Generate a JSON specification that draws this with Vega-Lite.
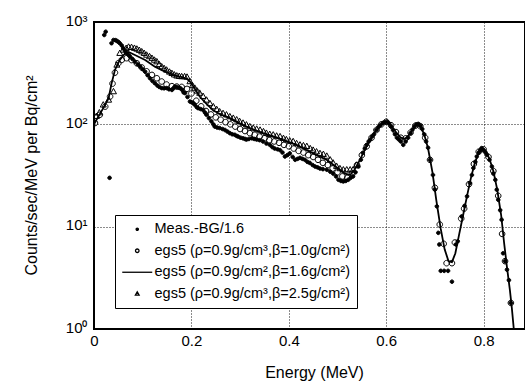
{
  "$schema": "https://vega.github.io/schema/vega-lite/v6.json",
  "width": 431,
  "height": 307,
  "autosize": {"type": "none"},
  "padding": {"left": 94, "top": 22, "right": 0, "bottom": 54},
  "background": "white",
  "config": {
    "view": {"stroke": "black", "strokeWidth": 2},
    "font": "Liberation Sans",
    "axis": {"labelFont": "Liberation Sans", "titleFont": "Liberation Sans", "labelColor": "black", "titleColor": "black", "titleFontWeight": "normal"}
  },
  "data": {"values": [
    {"s":"T","x":0.005,"y":120},{"s":"T","x":0.011,"y":130},{"s":"T","x":0.019,"y":155},{"s":"T","x":0.030,"y":173},{"s":"T","x":0.040,"y":209},{"s":"T","x":0.047,"y":380},{"s":"T","x":0.053,"y":495},{"s":"T","x":0.060,"y":533},{"s":"T","x":0.066,"y":554},{"s":"T","x":0.071,"y":570},{"s":"T","x":0.077,"y":566},{"s":"T","x":0.083,"y":555},{"s":"T","x":0.088,"y":545},{"s":"T","x":0.093,"y":530},{"s":"T","x":0.098,"y":513},{"s":"T","x":0.103,"y":495},{"s":"T","x":0.108,"y":476},{"s":"T","x":0.114,"y":460},{"s":"T","x":0.119,"y":443},{"s":"T","x":0.124,"y":425},{"s":"T","x":0.129,"y":410},{"s":"T","x":0.134,"y":385},{"s":"T","x":0.139,"y":366},{"s":"T","x":0.144,"y":352},{"s":"T","x":0.149,"y":340},{"s":"T","x":0.155,"y":325},{"s":"T","x":0.160,"y":315},{"s":"T","x":0.165,"y":305},{"s":"T","x":0.170,"y":298},{"s":"T","x":0.175,"y":295},{"s":"T","x":0.180,"y":293},{"s":"T","x":0.186,"y":293},{"s":"T","x":0.191,"y":290},{"s":"T","x":0.197,"y":262},{"s":"T","x":0.202,"y":240},{"s":"T","x":0.207,"y":226},{"s":"T","x":0.212,"y":212},{"s":"T","x":0.217,"y":202},{"s":"T","x":0.224,"y":188},{"s":"T","x":0.231,"y":173},{"s":"T","x":0.238,"y":160},{"s":"T","x":0.245,"y":149},{"s":"T","x":0.252,"y":140},{"s":"T","x":0.258,"y":133},{"s":"T","x":0.265,"y":128},{"s":"T","x":0.272,"y":124},{"s":"T","x":0.279,"y":119},{"s":"T","x":0.286,"y":115},{"s":"T","x":0.293,"y":111},{"s":"T","x":0.299,"y":107},{"s":"T","x":0.306,"y":103},{"s":"T","x":0.313,"y":99},{"s":"T","x":0.320,"y":95},{"s":"T","x":0.327,"y":92},{"s":"T","x":0.334,"y":90},{"s":"T","x":0.341,"y":88},{"s":"T","x":0.348,"y":85},{"s":"T","x":0.354,"y":82},{"s":"T","x":0.361,"y":80},{"s":"T","x":0.368,"y":79},{"s":"T","x":0.375,"y":77},{"s":"T","x":0.382,"y":76},{"s":"T","x":0.389,"y":73},{"s":"T","x":0.395,"y":71},{"s":"T","x":0.402,"y":69},{"s":"T","x":0.409,"y":68},{"s":"T","x":0.416,"y":65},{"s":"T","x":0.423,"y":63},{"s":"T","x":0.430,"y":62},{"s":"T","x":0.437,"y":61},{"s":"T","x":0.444,"y":58},{"s":"T","x":0.450,"y":56},{"s":"T","x":0.457,"y":54},{"s":"T","x":0.464,"y":52},{"s":"T","x":0.471,"y":51},{"s":"T","x":0.478,"y":49},{"s":"T","x":0.485,"y":45},{"s":"T","x":0.491,"y":42},{"s":"T","x":0.498,"y":39},{"s":"T","x":0.505,"y":37},{"s":"T","x":0.512,"y":36},{"s":"T","x":0.519,"y":36},{"s":"T","x":0.526,"y":36},{"s":"T","x":0.532,"y":36},{"s":"T","x":0.539,"y":40},
    {"s":"C","x":0.002,"y":103},{"s":"C","x":0.012,"y":124},{"s":"C","x":0.023,"y":149},{"s":"C","x":0.033,"y":187},{"s":"C","x":0.038,"y":250},{"s":"C","x":0.043,"y":320},{"s":"C","x":0.050,"y":396},{"s":"C","x":0.057,"y":426},{"s":"C","x":0.067,"y":443},{"s":"C","x":0.077,"y":425},{"s":"C","x":0.088,"y":395},{"s":"C","x":0.098,"y":360},{"s":"C","x":0.108,"y":330},{"s":"C","x":0.119,"y":304},{"s":"C","x":0.129,"y":282},{"s":"C","x":0.139,"y":262},{"s":"C","x":0.149,"y":245},{"s":"C","x":0.160,"y":236},{"s":"C","x":0.170,"y":234},{"s":"C","x":0.180,"y":232},{"s":"C","x":0.191,"y":222},{"s":"C","x":0.200,"y":200},{"s":"C","x":0.210,"y":170},{"s":"C","x":0.220,"y":150},{"s":"C","x":0.230,"y":135},{"s":"C","x":0.240,"y":125},{"s":"C","x":0.250,"y":117},{"s":"C","x":0.260,"y":111},{"s":"C","x":0.270,"y":105},{"s":"C","x":0.280,"y":100},{"s":"C","x":0.290,"y":95},{"s":"C","x":0.300,"y":90},{"s":"C","x":0.310,"y":86},{"s":"C","x":0.320,"y":82},{"s":"C","x":0.330,"y":79},{"s":"C","x":0.340,"y":76},{"s":"C","x":0.350,"y":73},{"s":"C","x":0.360,"y":70},{"s":"C","x":0.370,"y":68},{"s":"C","x":0.380,"y":66},{"s":"C","x":0.390,"y":63},{"s":"C","x":0.400,"y":61},{"s":"C","x":0.410,"y":58},{"s":"C","x":0.420,"y":55},{"s":"C","x":0.430,"y":53},{"s":"C","x":0.440,"y":50},{"s":"C","x":0.450,"y":48},{"s":"C","x":0.460,"y":45},{"s":"C","x":0.470,"y":42},{"s":"C","x":0.480,"y":40},{"s":"C","x":0.490,"y":37},{"s":"C","x":0.500,"y":34},{"s":"C","x":0.510,"y":31},{"s":"C","x":0.520,"y":30},{"s":"C","x":0.530,"y":33},{"s":"C","x":0.540,"y":40},{"s":"C","x":0.550,"y":50},{"s":"C","x":0.560,"y":61},{"s":"C","x":0.570,"y":74},{"s":"C","x":0.580,"y":88},{"s":"C","x":0.590,"y":100},{"s":"C","x":0.600,"y":106},{"s":"C","x":0.610,"y":98},{"s":"C","x":0.620,"y":84},{"s":"C","x":0.630,"y":74},{"s":"C","x":0.640,"y":73},{"s":"C","x":0.650,"y":83},{"s":"C","x":0.660,"y":97},{"s":"C","x":0.670,"y":96},{"s":"C","x":0.680,"y":74},{"s":"C","x":0.690,"y":45},{"s":"C","x":0.700,"y":24},{"s":"C","x":0.710,"y":10.5},{"s":"C","x":0.718,"y":6.8},{"s":"C","x":0.724,"y":4.4},{"s":"C","x":0.735,"y":4.4},{"s":"C","x":0.741,"y":7},{"s":"C","x":0.754,"y":12},{"s":"C","x":0.760,"y":15},{"s":"C","x":0.770,"y":26},{"s":"C","x":0.780,"y":41},{"s":"C","x":0.790,"y":54},{"s":"C","x":0.800,"y":57},{"s":"C","x":0.810,"y":48},{"s":"C","x":0.820,"y":35},{"s":"C","x":0.830,"y":20},{"s":"C","x":0.838,"y":8.5},{"s":"C","x":0.844,"y":4.6},{"s":"C","x":0.856,"y":1.8},
    {"s":"M","x":0.021,"y":747},{"s":"M","x":0.024,"y":804},{"s":"M","x":0.032,"y":30},{"s":"M","x":0.036,"y":620},{"s":"M","x":0.040,"y":667},{"s":"M","x":0.044,"y":665},{"s":"M","x":0.047,"y":653},{"s":"M","x":0.050,"y":640},{"s":"M","x":0.053,"y":620},{"s":"M","x":0.057,"y":590},{"s":"M","x":0.060,"y":554},{"s":"M","x":0.064,"y":520},{"s":"M","x":0.067,"y":495},{"s":"M","x":0.071,"y":475},{"s":"M","x":0.074,"y":459},{"s":"M","x":0.079,"y":435},{"s":"M","x":0.084,"y":410},{"s":"M","x":0.090,"y":385},{"s":"M","x":0.095,"y":366},{"s":"M","x":0.100,"y":345},{"s":"M","x":0.105,"y":327},{"s":"M","x":0.110,"y":302},{"s":"M","x":0.115,"y":282},{"s":"M","x":0.120,"y":265},{"s":"M","x":0.125,"y":252},{"s":"M","x":0.130,"y":240},{"s":"M","x":0.134,"y":232},{"s":"M","x":0.139,"y":226},{"s":"M","x":0.144,"y":225},{"s":"M","x":0.149,"y":226},{"s":"M","x":0.154,"y":220},{"s":"M","x":0.160,"y":217},{"s":"M","x":0.163,"y":225},{"s":"M","x":0.166,"y":234},{"s":"M","x":0.170,"y":232},{"s":"M","x":0.174,"y":228},{"s":"M","x":0.177,"y":226},{"s":"M","x":0.181,"y":217},{"s":"M","x":0.184,"y":205},{"s":"M","x":0.187,"y":202},{"s":"M","x":0.192,"y":185},{"s":"M","x":0.197,"y":167},{"s":"M","x":0.200,"y":165},{"s":"M","x":0.204,"y":161},{"s":"M","x":0.207,"y":155},{"s":"M","x":0.211,"y":147},{"s":"M","x":0.214,"y":144},{"s":"M","x":0.219,"y":141},{"s":"M","x":0.224,"y":138},{"s":"M","x":0.228,"y":130},{"s":"M","x":0.231,"y":124},{"s":"M","x":0.236,"y":115},{"s":"M","x":0.241,"y":107},{"s":"M","x":0.245,"y":100},{"s":"M","x":0.248,"y":95},{"s":"M","x":0.253,"y":93},{"s":"M","x":0.258,"y":92},{"s":"M","x":0.264,"y":90},{"s":"M","x":0.269,"y":88},{"s":"M","x":0.274,"y":85},{"s":"M","x":0.279,"y":82},{"s":"M","x":0.284,"y":80},{"s":"M","x":0.289,"y":79},{"s":"M","x":0.293,"y":77},{"s":"M","x":0.296,"y":76},{"s":"M","x":0.301,"y":74},{"s":"M","x":0.306,"y":73},{"s":"M","x":0.310,"y":72},{"s":"M","x":0.313,"y":71},{"s":"M","x":0.318,"y":72},{"s":"M","x":0.324,"y":73},{"s":"M","x":0.329,"y":72},{"s":"M","x":0.334,"y":71},{"s":"M","x":0.340,"y":70},{"s":"M","x":0.347,"y":68},{"s":"M","x":0.354,"y":65},{"s":"M","x":0.361,"y":63},{"s":"M","x":0.366,"y":60},{"s":"M","x":0.371,"y":58},{"s":"M","x":0.377,"y":57},{"s":"M","x":0.382,"y":56},{"s":"M","x":0.387,"y":53},{"s":"M","x":0.392,"y":48.5},{"s":"M","x":0.397,"y":50},{"s":"M","x":0.402,"y":52},{"s":"M","x":0.408,"y":48},{"s":"M","x":0.413,"y":45},{"s":"M","x":0.418,"y":46},{"s":"M","x":0.423,"y":47},{"s":"M","x":0.428,"y":46},{"s":"M","x":0.433,"y":45},{"s":"M","x":0.438,"y":43},{"s":"M","x":0.443,"y":42},{"s":"M","x":0.449,"y":40},{"s":"M","x":0.454,"y":38.7},{"s":"M","x":0.459,"y":38},{"s":"M","x":0.464,"y":37},{"s":"M","x":0.470,"y":36.5},{"s":"M","x":0.478,"y":36},{"s":"M","x":0.485,"y":34.5},{"s":"M","x":0.491,"y":33},{"s":"M","x":0.497,"y":31},{"s":"M","x":0.502,"y":28.7},{"s":"M","x":0.507,"y":28},{"s":"M","x":0.512,"y":27.7},{"s":"M","x":0.517,"y":28},{"s":"M","x":0.522,"y":28.7},{"s":"M","x":0.527,"y":30},{"s":"M","x":0.532,"y":31},{"s":"M","x":0.537,"y":34},{"s":"M","x":0.543,"y":38.7},{"s":"M","x":0.548,"y":45},{"s":"M","x":0.552,"y":52.7},{"s":"M","x":0.556,"y":58},{"s":"M","x":0.560,"y":63},{"s":"M","x":0.564,"y":68},{"s":"M","x":0.567,"y":70.6},{"s":"M","x":0.571,"y":76},{"s":"M","x":0.575,"y":80},{"s":"M","x":0.580,"y":88},{"s":"M","x":0.584,"y":94},{"s":"M","x":0.588,"y":98},{"s":"M","x":0.593,"y":103},{"s":"M","x":0.597,"y":105},{"s":"M","x":0.602,"y":106},{"s":"M","x":0.606,"y":102},{"s":"M","x":0.610,"y":95},{"s":"M","x":0.614,"y":88},{"s":"M","x":0.618,"y":80},{"s":"M","x":0.622,"y":74},{"s":"M","x":0.626,"y":71},{"s":"M","x":0.630,"y":68},{"s":"M","x":0.635,"y":63},{"s":"M","x":0.640,"y":68},{"s":"M","x":0.645,"y":74},{"s":"M","x":0.650,"y":82},{"s":"M","x":0.654,"y":89},{"s":"M","x":0.658,"y":95},{"s":"M","x":0.662,"y":100},{"s":"M","x":0.666,"y":101},{"s":"M","x":0.670,"y":97},{"s":"M","x":0.674,"y":90},{"s":"M","x":0.678,"y":80},{"s":"M","x":0.682,"y":68},{"s":"M","x":0.686,"y":59},{"s":"M","x":0.690,"y":45},{"s":"M","x":0.696,"y":32},{"s":"M","x":0.700,"y":23},{"s":"M","x":0.704,"y":15.8},{"s":"M","x":0.707,"y":8.7},{"s":"M","x":0.709,"y":6.7},{"s":"M","x":0.712,"y":3.7},{"s":"M","x":0.719,"y":3.7},{"s":"M","x":0.727,"y":3.7},{"s":"M","x":0.735,"y":2.9},{"s":"M","x":0.743,"y":6.7},{"s":"M","x":0.747,"y":7.2},{"s":"M","x":0.755,"y":12.6},{"s":"M","x":0.761,"y":16},{"s":"M","x":0.766,"y":19.8},{"s":"M","x":0.772,"y":26.7},{"s":"M","x":0.776,"y":32},{"s":"M","x":0.779,"y":37.4},{"s":"M","x":0.783,"y":43},{"s":"M","x":0.786,"y":48.5},{"s":"M","x":0.790,"y":53},{"s":"M","x":0.793,"y":56},{"s":"M","x":0.796,"y":58.6},{"s":"M","x":0.800,"y":56},{"s":"M","x":0.804,"y":53},{"s":"M","x":0.807,"y":50.4},{"s":"M","x":0.812,"y":45},{"s":"M","x":0.817,"y":38.7},{"s":"M","x":0.820,"y":33},{"s":"M","x":0.824,"y":28.7},{"s":"M","x":0.827,"y":23},{"s":"M","x":0.830,"y":18.3},{"s":"M","x":0.834,"y":14.5},{"s":"M","x":0.837,"y":11.7},{"s":"M","x":0.840,"y":5.5},{"s":"M","x":0.844,"y":4.6},{"s":"M","x":0.848,"y":3.8},{"s":"M","x":0.852,"y":3.0},{"s":"M","x":0.856,"y":1.8},
    {"s":"L","x":0.000,"y":100},{"s":"L","x":0.009,"y":119},{"s":"L","x":0.019,"y":144},{"s":"L","x":0.030,"y":180},{"s":"L","x":0.036,"y":250},{"s":"L","x":0.043,"y":340},{"s":"L","x":0.053,"y":426},{"s":"L","x":0.064,"y":495},{"s":"L","x":0.071,"y":510},{"s":"L","x":0.084,"y":476},{"s":"L","x":0.105,"y":426},{"s":"L","x":0.125,"y":366},{"s":"L","x":0.146,"y":327},{"s":"L","x":0.166,"y":300},{"s":"L","x":0.180,"y":290},{"s":"L","x":0.190,"y":280},{"s":"L","x":0.197,"y":262},{"s":"L","x":0.205,"y":230},{"s":"L","x":0.217,"y":187},{"s":"L","x":0.230,"y":160},{"s":"L","x":0.244,"y":138},{"s":"L","x":0.260,"y":125},{"s":"L","x":0.279,"y":115},{"s":"L","x":0.296,"y":104},{"s":"L","x":0.313,"y":95},{"s":"L","x":0.330,"y":88},{"s":"L","x":0.347,"y":82},{"s":"L","x":0.365,"y":77},{"s":"L","x":0.382,"y":72},{"s":"L","x":0.400,"y":67},{"s":"L","x":0.416,"y":63},{"s":"L","x":0.433,"y":57},{"s":"L","x":0.450,"y":52},{"s":"L","x":0.465,"y":48},{"s":"L","x":0.478,"y":45},{"s":"L","x":0.492,"y":40},{"s":"L","x":0.505,"y":36},{"s":"L","x":0.515,"y":33},{"s":"L","x":0.526,"y":32},{"s":"L","x":0.535,"y":36},{"s":"L","x":0.546,"y":45},{"s":"L","x":0.555,"y":55},{"s":"L","x":0.565,"y":68},{"s":"L","x":0.575,"y":82},{"s":"L","x":0.585,"y":95},{"s":"L","x":0.595,"y":104},{"s":"L","x":0.602,"y":106},{"s":"L","x":0.610,"y":98},{"s":"L","x":0.620,"y":84},{"s":"L","x":0.630,"y":74},{"s":"L","x":0.638,"y":72},{"s":"L","x":0.645,"y":77},{"s":"L","x":0.655,"y":90},{"s":"L","x":0.663,"y":100},{"s":"L","x":0.670,"y":96},{"s":"L","x":0.678,"y":80},{"s":"L","x":0.686,"y":58},{"s":"L","x":0.695,"y":34},{"s":"L","x":0.703,"y":18},{"s":"L","x":0.712,"y":9.5},{"s":"L","x":0.720,"y":6},{"s":"L","x":0.728,"y":4.6},{"s":"L","x":0.735,"y":4.5},{"s":"L","x":0.742,"y":5.5},{"s":"L","x":0.750,"y":8.5},{"s":"L","x":0.758,"y":13},{"s":"L","x":0.766,"y":20},{"s":"L","x":0.774,"y":30},{"s":"L","x":0.782,"y":42},{"s":"L","x":0.790,"y":53},{"s":"L","x":0.797,"y":58},{"s":"L","x":0.804,"y":55},{"s":"L","x":0.812,"y":46},{"s":"L","x":0.820,"y":35},{"s":"L","x":0.828,"y":23},{"s":"L","x":0.836,"y":13},{"s":"L","x":0.842,"y":7},{"s":"L","x":0.848,"y":4},{"s":"L","x":0.854,"y":2.4},{"s":"L","x":0.858,"y":1.6},{"s":"L","x":0.862,"y":1.0},{"s":"L","x":0.866,"y":0.75}
  ]},
  "encoding": {
    "x": {"field": "x", "type": "quantitative", "scale": {"domain": [0, 0.885], "nice": false, "zero": false},
      "axis": {"values": [0, 0.2, 0.4, 0.6, 0.8], "format": "~g", "title": "Energy (MeV)", "domain": false, "ticks": false,
        "labelFontSize": 15, "labelPadding": 4, "labelFlush": false, "titleFontSize": 16, "titleX": 220, "titleY": 43, "titleBaseline": "middle",
        "grid": true, "gridColor": "black", "gridDash": [1, 2], "gridWidth": 1, "gridOpacity": 0.9}},
    "y": {"field": "y", "type": "quantitative", "scale": {"type": "log", "domain": [1, 1000], "nice": false},
      "axis": {"values": [1, 10, 100, 1000], "labelExpr": "datum.value == 1 ? '10⁰' : datum.value == 10 ? '10¹' : datum.value == 100 ? '10²' : '10³'",
        "title": "Counts/sec/MeV per Bq/cm²", "domain": false, "ticks": false, "labelFontSize": 15, "labelPadding": 7, "labelOffset": -2, "labelFlush": false,
        "titleFontSize": 16, "titleX": -63, "titleY": 153, "titleAngle": -90, "titleAlign": "center", "titleBaseline": "middle",
        "grid": true, "gridColor": "black", "gridDash": [1, 2], "gridWidth": 1, "gridOpacity": 0.9}}
  },
  "layer": [
    {
      "transform": [{"filter": "datum.s != 'L'"}],
      "mark": {"type": "point", "filled": true, "stroke": "black", "strokeWidth": 1, "opacity": 1, "size": 64, "clip": true},
      "encoding": {
        "shape": {"field": "s", "type": "nominal",
          "scale": {"domain": ["M", "C", "L", "T"], "range": [
            "M-0.45,0A0.45,0.45 0 1,0 0.45,0A0.45,0.45 0 1,0 -0.45,0Z",
            "M-0.7,0A0.7,0.7 0 1,0 0.7,0A0.7,0.7 0 1,0 -0.7,0Z",
            "M-6,0H6",
            "M0,-0.8L0.75,0.55L-0.75,0.55Z"]},
          "legend": {"title": null, "orient": "bottom-left", "offset": 21, "padding": 7, "rowPadding": 6.5,
            "symbolSize": 25, "symbolOffset": 8, "labelOffset": 10, "symbolStrokeColor": "black", "symbolFillColor": "transparent", "symbolStrokeWidth": 1.3,
            "labelFont": "Liberation Sans", "labelFontSize": 14.5, "labelColor": "black", "labelLimit": 400,
            "fillColor": "white", "strokeColor": "black",
            "labelExpr": "datum.value == 'M' ? 'Meas.-BG/1.6' : datum.value == 'C' ? 'egs5 (ρ=0.9g/cm³,β=1.0g/cm²)' : datum.value == 'L' ? 'egs5 (ρ=0.9g/cm²,β=1.6g/cm²)' : 'egs5 (ρ=0.9g/cm³,β=2.5g/cm²)'",
            "encode": {
              "legend": {"update": {"strokeWidth": {"value": 2}}}
            }}},
        "fill": {"field": "s", "type": "nominal", "legend": null, "scale": {"domain": ["M", "C", "L", "T"], "range": ["black", "transparent", "black", "transparent"]}}
      }
    },
    {
      "transform": [{"filter": "datum.s == 'L'"}],
      "mark": {"type": "line", "color": "black", "strokeWidth": 1.8, "clip": true},
      "encoding": {}
    }
  ]
}
